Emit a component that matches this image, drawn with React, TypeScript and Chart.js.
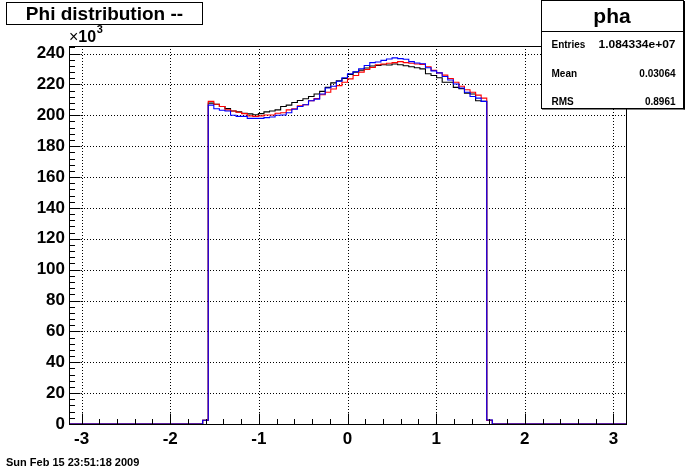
import React, { useEffect, useRef } from "react";
import { Chart, registerables } from "chart.js";

Chart.register(...registerables);

// Histogram definition: 100 bins from -pi to pi
const N_BINS = 100;
const X_MIN = -Math.PI;
const X_MAX = Math.PI;
const FIRST_BIN = 24; // index of first listed bin below

// values in units of 10^3, bins 24..75
const blackValues = [
  2.4,
  207.9, 207.2, 205.7, 204.4, 202.8, 202.2, 201.3, 200.9, 200.4, 201.1,
  202.2, 202.8, 203.5, 205.7, 206.6, 208.3, 209.6, 210.7, 212.2, 213.8,
  215.5, 218.1, 221.0, 222.3, 223.8, 226.4, 228.0, 229.3, 230.6, 231.9,
  232.3, 232.8, 232.6, 233.2, 232.8, 232.1, 231.5, 230.8, 230.1, 226.9,
  225.8, 224.3, 221.4, 221.4, 218.1, 217.3, 214.4, 213.8, 209.4, 209.0,
  2.4,
];
const redValues = [
  2.4,
  209.0, 207.2, 205.7, 203.5, 202.8, 202.0, 201.1, 199.6, 199.3, 199.6,
  200.2, 200.2, 201.3, 201.7, 203.5, 204.2, 206.1, 206.8, 209.4, 210.9,
  213.3, 214.9, 217.0, 219.2, 221.4, 223.6, 225.8, 228.0, 229.7, 231.0,
  232.8, 233.2, 233.7, 234.1, 234.8, 234.1, 233.7, 233.2, 233.0, 231.5,
  229.1, 227.5, 226.0, 223.8, 221.4, 218.8, 216.6, 214.9, 213.1, 211.1,
  2.4,
];
const blueValues = [
  2.4,
  206.6, 204.2, 203.3, 202.8, 200.0, 199.3, 199.3, 198.0, 198.0, 198.0,
  198.5, 198.9, 200.0, 200.2, 201.7, 203.9, 205.7, 206.8, 209.4, 210.5,
  213.8, 217.7, 218.8, 222.1, 224.3, 226.9, 228.2, 230.2, 232.3, 234.1,
  234.5, 235.6, 236.5, 237.2, 236.7, 236.3, 234.8, 233.9, 233.4, 230.8,
  228.8, 227.5, 225.1, 222.9, 220.3, 217.7, 214.9, 212.2, 211.1, 209.0,
  2.6,
];

const xTickValues = [-3, -2, -1, 0, 1, 2, 3];
const yTickValues = [0, 20, 40, 60, 80, 100, 120, 140, 160, 180, 200, 220, 240];
const Y_MAX = 244.9;

const titleText = "Phi distribution --";
const statsName = "pha";
const statsRows = [
  ["Entries", "1.084334e+07"],
  ["Mean", "0.03064"],
  ["RMS", "0.8961"],
];
const dateText = "Sun Feb 15 23:51:18 2009";

function buildSteps(values: number[]) {
  const w = (X_MAX - X_MIN) / N_BINS;
  const full = new Array(N_BINS).fill(0);
  values.forEach((v, i) => (full[FIRST_BIN + i] = v));
  const pts = full.map((v, i) => ({ x: X_MIN + i * w, y: v }));
  pts.push({ x: X_MAX, y: full[N_BINS - 1] });
  return pts;
}

const FONT = "'Liberation Sans', Arial, Helvetica, sans-serif";

const decorPlugin = {
  id: "rootDecor",
  beforeDatasetsDraw(chart: any) {
    const { ctx, chartArea: a, scales } = chart;
    const xs = scales.x;
    const ys = scales.y;
    ctx.save();
    ctx.strokeStyle = "#000";
    ctx.lineWidth = 1;
    ctx.setLineDash([1, 2]);
    xTickValues.forEach((v) => {
      const px = Math.round(xs.getPixelForValue(v)) + 0.5;
      ctx.beginPath();
      ctx.moveTo(px, a.top);
      ctx.lineTo(px, a.bottom);
      ctx.stroke();
    });
    yTickValues.forEach((v) => {
      const py = Math.round(ys.getPixelForValue(v)) + 0.5;
      ctx.beginPath();
      ctx.moveTo(a.left, py);
      ctx.lineTo(a.right, py);
      ctx.stroke();
    });
    ctx.restore();
  },
  afterDatasetsDraw(chart: any) {
    const { ctx, chartArea: a, scales } = chart;
    const xs = scales.x;
    const ys = scales.y;
    ctx.save();
    ctx.strokeStyle = "#000";
    ctx.lineWidth = 1;
    ctx.setLineDash([]);
    const L = Math.round(a.left) + 0.5;
    const R = Math.round(a.right) + 0.5;
    const T = Math.round(a.top) + 0.5;
    const B = Math.round(a.bottom) + 0.5;
    ctx.strokeRect(L, T, R - L, B - T);
    // x ticks
    for (let k = -20; k <= 20; k++) {
      const v = k * 0.2;
      if (v < X_MIN || v > X_MAX) continue;
      const major = k % 5 === 0;
      const px = Math.round(xs.getPixelForValue(v)) + 0.5;
      ctx.beginPath();
      ctx.moveTo(px, B);
      ctx.lineTo(px, B - (major ? 11 : 5.5));
      ctx.stroke();
    }
    // y ticks
    for (let v = 0; v <= Y_MAX; v += 4) {
      const major = v % 20 === 0;
      const py = Math.round(ys.getPixelForValue(v)) + 0.5;
      ctx.beginPath();
      ctx.moveTo(L, py);
      ctx.lineTo(L + (major ? 11 : 5.5), py);
      ctx.stroke();
    }
    ctx.restore();
  },
  afterDraw(chart: any) {
    const { ctx } = chart;
    ctx.save();
    ctx.setLineDash([]);
    ctx.lineWidth = 1;
    ctx.strokeStyle = "#000";
    ctx.fillStyle = "#000";
    // title box
    ctx.fillStyle = "#fff";
    ctx.fillRect(6.5, 2.5, 196, 22);
    ctx.fillStyle = "#000";
    ctx.strokeRect(6.5, 2.5, 196, 22);
    ctx.font = `bold 19px ${FONT}`;
    ctx.textAlign = "center";
    ctx.textBaseline = "alphabetic";
    ctx.fillText(titleText, 104.5, 20);

    // stats box
    ctx.fillStyle = "#fff";
    ctx.fillRect(541.5, 0.5, 142, 108);
    ctx.fillStyle = "#000";
    ctx.fillRect(542, 108.5, 143, 1);
    ctx.fillRect(683.5, 1, 1.5, 108.5);
    ctx.strokeRect(541.5, 0.5, 142, 108);
    ctx.beginPath();
    ctx.moveTo(541.5, 31.5);
    ctx.lineTo(683.5, 31.5);
    ctx.stroke();
    ctx.font = `bold 21px ${FONT}`;
    ctx.textAlign = "center";
    ctx.fillText(statsName, 612, 23);
    const baselines = [47.5, 76.5, 105];
    statsRows.forEach(([k, v], i) => {
      ctx.font = `bold 10px ${FONT}`;
      ctx.textAlign = "left";
      ctx.fillText(k, 551.5, baselines[i]);
      ctx.textAlign = "right";
      if (i === 0) {
        ctx.save();
        const w = ctx.measureText(v).width;
        const sx = 77 / w;
        ctx.translate(675.5, baselines[i]);
        ctx.scale(sx, 1);
        ctx.fillText(v, 0, 0);
        ctx.restore();
      } else {
        ctx.fillText(v, 675.5, baselines[i]);
      }
    });

    // x10^3
    ctx.textAlign = "left";
    ctx.font = `16px ${FONT}`;
    ctx.fillText("\u00d7", 69, 42);
    const wx = ctx.measureText("\u00d7").width;
    ctx.font = `bold 16px ${FONT}`;
    ctx.fillText("10", 69 + wx, 42);
    const w10 = ctx.measureText("10").width;
    ctx.font = `bold 11px ${FONT}`;
    ctx.fillText("3", 69 + wx + w10 + 0.5, 33);

    // date
    ctx.font = `bold 11px ${FONT}`;
    ctx.fillText(dateText, 6, 466);
    ctx.restore();
  },
};

export default function App() {
  const ref = useRef<HTMLCanvasElement>(null);
  useEffect(() => {
    if (!ref.current) return;
    const chart = new Chart(ref.current, {
      type: "line",
      data: {
        datasets: [
          { label: "blue", data: buildSteps(blueValues), borderColor: "#0000ff" },
          { label: "red", data: buildSteps(redValues), borderColor: "#ff0000" },
          { label: "black", data: buildSteps(blackValues), borderColor: "#000000" },
        ].map((d) => ({
          ...d,
          stepped: "before" as const,
          borderWidth: 1.1,
          pointRadius: 0,
          fill: false,
          clip: false as any,
        })),
      },
      options: {
        animation: false,
        responsive: false,
        devicePixelRatio: 1,
        parsing: false,
        normalized: true,
        layout: { padding: { top: 46, right: 70, left: 0, bottom: 0 } },
        plugins: {
          legend: { display: false },
          tooltip: { enabled: false },
          title: { display: false },
        },
        scales: {
          x: {
            type: "linear",
            min: X_MIN,
            max: X_MAX,
            afterBuildTicks: (s: any) => {
              s.ticks = xTickValues.map((v) => ({ value: v }));
            },
            afterFit: (s: any) => {
              s.height = 48;
            },
            grid: { display: false, drawTicks: false },
            border: { display: false },
            ticks: {
              padding: 5,
              color: "#000",
              font: { family: FONT, size: 17, weight: "bold" },
              maxRotation: 0,
              autoSkip: false,
              callback: (v: any) => String(v),
            },
          },
          y: {
            type: "linear",
            min: 0,
            max: Y_MAX,
            afterBuildTicks: (s: any) => {
              s.ticks = yTickValues.map((v) => ({ value: v }));
            },
            afterFit: (s: any) => {
              s.width = 69;
            },
            grid: { display: false, drawTicks: false },
            border: { display: false },
            ticks: {
              padding: 4,
              color: "#000",
              font: { family: FONT, size: 17, weight: "bold" },
              autoSkip: false,
              callback: (v: any) => String(v),
            },
          },
        },
      },
      plugins: [decorPlugin],
    });
    return () => chart.destroy();
  }, []);
  return (
    <div style={{ position: "fixed", left: 0, top: 0, width: 696, height: 472, background: "#fff" }}>
      <canvas ref={ref} width={696} height={472} style={{ width: 696, height: 472, display: "block" }} />
    </div>
  );
}
